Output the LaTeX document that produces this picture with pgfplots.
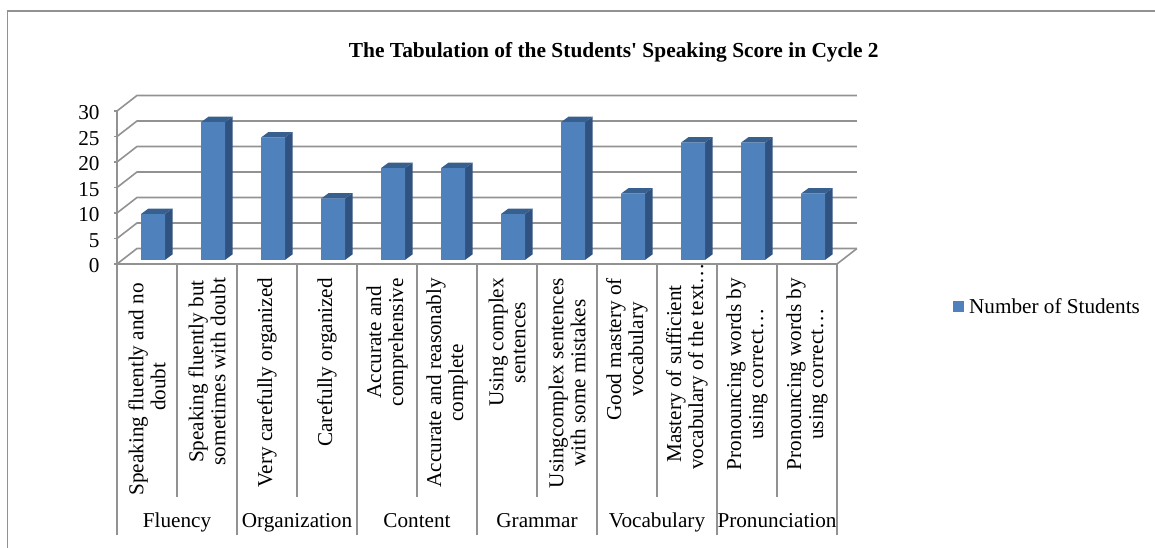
\documentclass[border=0pt]{standalone}
\usepackage{pgfplots}
\pgfplotsset{compat=1.18}
\usepackage{pgfplotstable}
\usepackage{fontspec}
\defaultfontfeatures[\rmfamily]{}
\setmainfont{Liberation Serif}
\definecolor{barfront}{HTML}{4F81BD}
\definecolor{barside}{HTML}{2F5280}
\definecolor{bartop}{HTML}{38608F}
\definecolor{gridc}{HTML}{929292}
\pgfplotstableread{
x v
0.6 9
1.6 27
2.6 24
3.6 12
4.6 18
5.6 18
6.6 9
7.6 27
8.6 13
9.6 23
10.6 23
11.6 13
}\scores
\newcommand\fsz{\fontsize{21.2pt}{22pt}\selectfont}
\begin{document}
\begin{tikzpicture}[x=1pt,y=1pt]
\useasboundingbox (-117,-284) rectangle (1038,264);
\begin{axis}[
  scale only axis, width=720pt, height=153pt,
  xmin=0, xmax=12, ymin=-0.8, ymax=29.2,
  clip=false,
  axis x line=bottom, axis y line=left,
  axis line style={gridc, line width=1.6pt, -},
  tick style={gridc, line width=1.2pt},
  /pgf/number format/assume math mode=true,
  ytick={-0.8,4.2,9.2,14.2,19.2,24.2,29.2},
  yticklabels={0,5,10,15,20,25,30},
  yticklabel style={font=\fsz, xshift=-11pt, yshift=-2pt},
  ytick align=outside, major tick length=3pt,
  xtick={0.5,1.5,2.5,3.5,4.5,5.5,6.5,7.5,8.5,9.5,10.5,11.5},
  x tick style={draw=none},
  xticklabels={
    {Speaking fluently and no\kern5pt\\doubt},
    {Speaking fluently but\\sometimes with doubt},
    {Very carefully organized},
    {Carefully organized},
    {Accurate and\\comprehensive},
    {Accurate and reasonably\\complete},
    {Using complex\\sentences},
    {Usingcomplex sentences\\with some mistakes},
    {Good mastery of\\vocabulary},
    {Mastery of sufficient\\vocabulary of the text\dots\kern-15pt},
    {Pronouncing words by\\using correct\dots},
    {Pronouncing words by\\using correct\dots}},
  xticklabel style={font=\fsz, yshift=-9pt, rotate=90, anchor=east, align=center},
  title={The Tabulation of the Students' Speaking Score in Cycle 2},
  title style={font=\fontsize{21.4pt}{24pt}\selectfont\bfseries, at={(axis description cs:0.69,1.347)}, anchor=center},
  legend style={draw=none, fill=none, font=\fsz, at={(axis description cs:1.161,-0.28)}, anchor=west, inner sep=0pt, legend cell align=left},
  legend image code/.code={\fill[barfront] (0pt,-5.5pt) rectangle (11pt,5.5pt);},
]
% walls: floor edge and grid lines
\addplot[gridc, line width=1.6pt, forget plot] coordinates {(12,-0.8)(12.333,2.24)};
\addplot[gridc, line width=1.6pt, forget plot] coordinates {(0,-0.8)(0.333,2.24)(12.333,2.24)};
\addplot[gridc, line width=1.6pt, forget plot] coordinates {(0,4.2)(0.333,7.24)(12.333,7.24)};
\addplot[gridc, line width=1.6pt, forget plot] coordinates {(0,9.2)(0.333,12.24)(12.333,12.24)};
\addplot[gridc, line width=1.6pt, forget plot] coordinates {(0,14.2)(0.333,17.24)(12.333,17.24)};
\addplot[gridc, line width=1.6pt, forget plot] coordinates {(0,19.2)(0.333,22.24)(12.333,22.24)};
\addplot[gridc, line width=1.6pt, forget plot] coordinates {(0,24.2)(0.333,27.24)(12.333,27.24)};
\addplot[gridc, line width=1.6pt, forget plot] coordinates {(0,29.2)(0.333,32.24)(12.333,32.24)};
% category dividers
\addplot[gridc, line width=1.2pt, forget plot] coordinates {(1,-0.8)(1,-46.5)};
\addplot[gridc, line width=1.2pt, forget plot] coordinates {(3,-0.8)(3,-46.5)};
\addplot[gridc, line width=1.2pt, forget plot] coordinates {(5,-0.8)(5,-46.5)};
\addplot[gridc, line width=1.2pt, forget plot] coordinates {(7,-0.8)(7,-46.5)};
\addplot[gridc, line width=1.2pt, forget plot] coordinates {(9,-0.8)(9,-46.5)};
\addplot[gridc, line width=1.2pt, forget plot] coordinates {(11,-0.8)(11,-46.5)};
\addplot[gridc, line width=1.2pt, forget plot] coordinates {(0,-0.8)(0,-53.9)};
\addplot[gridc, line width=1.2pt, forget plot] coordinates {(2,-0.8)(2,-53.9)};
\addplot[gridc, line width=1.2pt, forget plot] coordinates {(4,-0.8)(4,-53.9)};
\addplot[gridc, line width=1.2pt, forget plot] coordinates {(6,-0.8)(6,-53.9)};
\addplot[gridc, line width=1.2pt, forget plot] coordinates {(8,-0.8)(8,-53.9)};
\addplot[gridc, line width=1.2pt, forget plot] coordinates {(10,-0.8)(10,-53.9)};
\addplot[gridc, line width=1.2pt, forget plot] coordinates {(12,-0.8)(12,-53.9)};
% frame of the chart area
\addplot[gridc, line width=1.2pt, forget plot] coordinates {(-1.82,-56.5)(-1.82,48.8)(17.4,48.8)};
% side faces
\addplot[fill=barside, draw=none, forget plot] coordinates {(0.8,0)(0.925,1.08)(0.925,10.08)(0.8,9)};
\addplot[fill=barside, draw=none, forget plot] coordinates {(1.8,0)(1.925,1.08)(1.925,28.08)(1.8,27)};
\addplot[fill=barside, draw=none, forget plot] coordinates {(2.8,0)(2.925,1.08)(2.925,25.08)(2.8,24)};
\addplot[fill=barside, draw=none, forget plot] coordinates {(3.8,0)(3.925,1.08)(3.925,13.08)(3.8,12)};
\addplot[fill=barside, draw=none, forget plot] coordinates {(4.8,0)(4.925,1.08)(4.925,19.08)(4.8,18)};
\addplot[fill=barside, draw=none, forget plot] coordinates {(5.8,0)(5.925,1.08)(5.925,19.08)(5.8,18)};
\addplot[fill=barside, draw=none, forget plot] coordinates {(6.8,0)(6.925,1.08)(6.925,10.08)(6.8,9)};
\addplot[fill=barside, draw=none, forget plot] coordinates {(7.8,0)(7.925,1.08)(7.925,28.08)(7.8,27)};
\addplot[fill=barside, draw=none, forget plot] coordinates {(8.8,0)(8.925,1.08)(8.925,14.08)(8.8,13)};
\addplot[fill=barside, draw=none, forget plot] coordinates {(9.8,0)(9.925,1.08)(9.925,24.08)(9.8,23)};
\addplot[fill=barside, draw=none, forget plot] coordinates {(10.8,0)(10.925,1.08)(10.925,24.08)(10.8,23)};
\addplot[fill=barside, draw=none, forget plot] coordinates {(11.8,0)(11.925,1.08)(11.925,14.08)(11.8,13)};
% top faces
\addplot[fill=bartop, draw=none, forget plot] coordinates {(0.4,9)(0.8,9)(0.925,10.08)(0.525,10.08)};
\addplot[fill=bartop, draw=none, forget plot] coordinates {(1.4,27)(1.8,27)(1.925,28.08)(1.525,28.08)};
\addplot[fill=bartop, draw=none, forget plot] coordinates {(2.4,24)(2.8,24)(2.925,25.08)(2.525,25.08)};
\addplot[fill=bartop, draw=none, forget plot] coordinates {(3.4,12)(3.8,12)(3.925,13.08)(3.525,13.08)};
\addplot[fill=bartop, draw=none, forget plot] coordinates {(4.4,18)(4.8,18)(4.925,19.08)(4.525,19.08)};
\addplot[fill=bartop, draw=none, forget plot] coordinates {(5.4,18)(5.8,18)(5.925,19.08)(5.525,19.08)};
\addplot[fill=bartop, draw=none, forget plot] coordinates {(6.4,9)(6.8,9)(6.925,10.08)(6.525,10.08)};
\addplot[fill=bartop, draw=none, forget plot] coordinates {(7.4,27)(7.8,27)(7.925,28.08)(7.525,28.08)};
\addplot[fill=bartop, draw=none, forget plot] coordinates {(8.4,13)(8.8,13)(8.925,14.08)(8.525,14.08)};
\addplot[fill=bartop, draw=none, forget plot] coordinates {(9.4,23)(9.8,23)(9.925,24.08)(9.525,24.08)};
\addplot[fill=bartop, draw=none, forget plot] coordinates {(10.4,23)(10.8,23)(10.925,24.08)(10.525,24.08)};
\addplot[fill=bartop, draw=none, forget plot] coordinates {(11.4,13)(11.8,13)(11.925,14.08)(11.525,14.08)};
% front faces
\addplot[ybar, bar width=24pt, bar shift=0pt, fill=barfront, draw=none] table[x=x,y=v] {\scores};
\addlegendentry{\kern3pt Number of Students}
% group names
\node[font=\fsz, anchor=base] at (axis cs:1,-52.56) {Fluency};
\node[font=\fsz, anchor=base] at (axis cs:3,-52.56) {Organization};
\node[font=\fsz, anchor=base] at (axis cs:5,-52.56) {Content};
\node[font=\fsz, anchor=base] at (axis cs:7,-52.56) {Grammar};
\node[font=\fsz, anchor=base] at (axis cs:9,-52.56) {Vocabulary};
\node[font=\fsz, anchor=base] at (axis cs:11,-52.56) {Pronunciation};
\end{axis}
\end{tikzpicture}
\end{document}
